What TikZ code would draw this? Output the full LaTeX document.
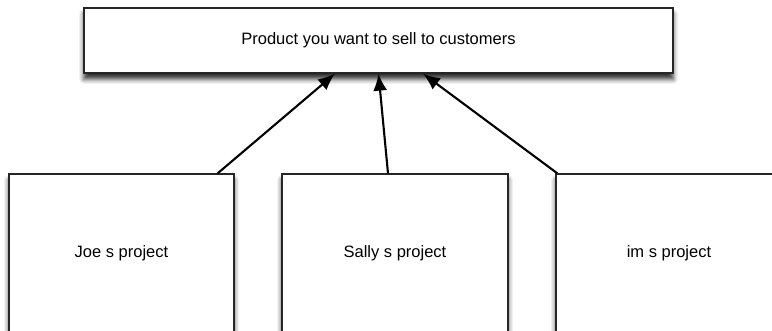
\documentclass[tikz,border=0pt]{standalone}
\usepackage{fontspec}
\setmainfont{Liberation Sans}
\usetikzlibrary{arrows.meta,shadows.blur}
\tikzset{
    every node/.style={rectangle, draw=black!85, fill=white, line width=1.3pt,
    	font=\fontsize{16.5}{19}\selectfont,
    	blur shadow={shadow xshift=0pt, shadow yshift=-6pt,
    	shadow blur radius=5pt, shadow opacity=85}}
}
\tikzset{
    every edge/.append style={line width=2.1pt, -{Latex[length=17pt,width=14pt]}}
}

\begin{document}
\begin{tikzpicture}[x=1pt,y=-1pt]
	\useasboundingbox (0,0) rectangle (772,331);
	\node (0) [minimum width=589pt, minimum height=65pt] at (378.5,40.5) {Product you want to sell to customers};
	\node (1) [minimum width=225pt, minimum height=158pt] at (121.5,253) {Joe s project};
	\node (2) [minimum width=226pt, minimum height=158pt] at (395,253) {Sally s project};
	\node (3) [minimum width=226pt, minimum height=158pt] at (669,253) {im s project};
	
	\draw ([xshift=-17pt]1.north east) edge ([xshift=-43.5pt]0.south);
	\draw ([xshift=-7pt]2.north) edge (0.south);
	\draw ([xshift=2pt]3.north west) edge ([xshift=44.5pt]0.south);
\end{tikzpicture}
\end{document}
